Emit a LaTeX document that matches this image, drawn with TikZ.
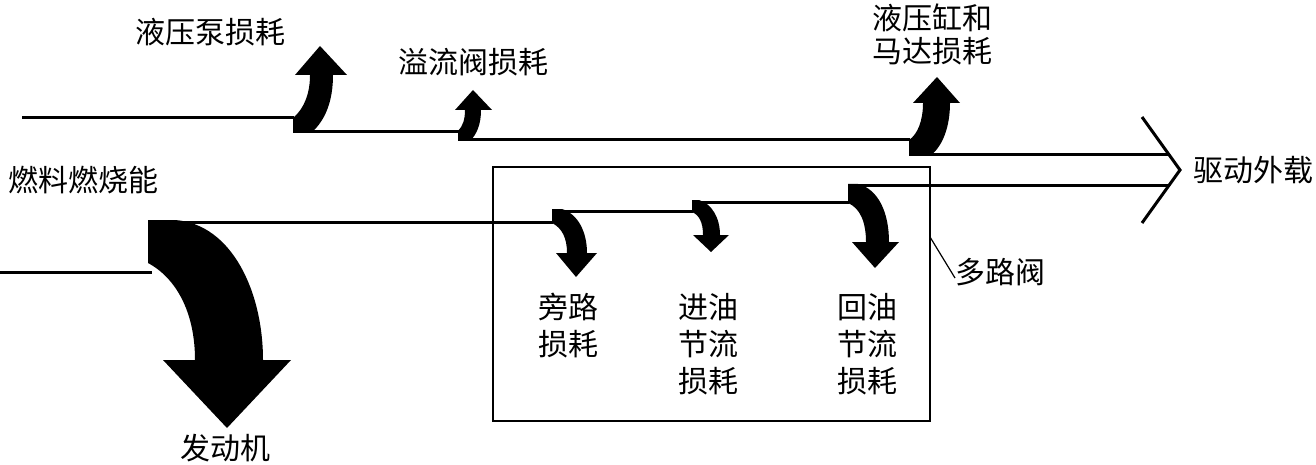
\documentclass[tikz,border=0pt]{standalone}
\usepackage{fontspec}
\newfontfamily\cjk{Noto Sans CJK SC}
\begin{document}
\begin{tikzpicture}[x=1pt,y=-1pt,
  flow/.style={line width=3pt},
  lbl/.style={inner sep=0pt,align=center,font={\cjk\fontsize{30pt}{37pt}\selectfont}},
  lbltwo/.style={lbl,font={\cjk\fontsize{30pt}{33pt}\selectfont}},
  loss/.style={fill=black}]
\useasboundingbox (0,0) rectangle (1316,465);
% upper boundary
\draw[flow] (22,118) -- (294,118);
\draw[flow] (305,132) -- (459,132);
\draw[flow] (468,140) -- (910,140);
\draw[flow] (924,155) -- (1169,155);
% lower boundary
\draw[flow] (0,272) -- (152,272);
\draw[flow] (172,222) -- (553,222);
\draw[flow] (552,211) -- (693,211);
\draw[flow] (692,202) -- (849,202);
\draw[flow] (848,186) -- (1168,186);
% output chevron
\draw[line width=3pt,line join=miter] (1142,117) -- (1180,170) -- (1142,223);
% engine loss
\fill[loss] (148,220) -- (175,220) .. controls (232,224) and (263,292) .. (263,360) -- (291,360) -- (227,428) -- (163,360) -- (195,360) .. controls (195,312) and (176,278) .. (148,263) -- cycle;
% pump loss
\fill[loss] (293,118) .. controls (305,108) and (310,92) .. (310,75) -- (295,75) -- (320,46) -- (347,75) -- (333,75) .. controls (333,100) and (326,120) .. (311,133) -- (293,133) -- cycle;
% relief valve loss
\fill[loss] (458,131) .. controls (463,126) and (465,119) .. (465,110) -- (455,110) -- (473,90) -- (492,110) -- (481,110) .. controls (481,124) and (477,134) .. (470,141) -- (458,141) -- cycle;
% cylinder and motor loss
\fill[loss] (909,140) .. controls (918,134) and (923,120) .. (923,103) -- (913,103) -- (937,77) -- (960,103) -- (950,103) .. controls (950,128) and (942,147) .. (930,156) -- (909,156) -- cycle;
% bypass loss
\fill[loss] (552,209) -- (562,209) .. controls (578,214) and (587,232) .. (587,253) -- (597,253) -- (576,277) -- (556,253) -- (567,253) .. controls (567,238) and (562,228) .. (552,223) -- cycle;
% inlet throttling loss
\fill[loss] (692,200) -- (699,200) .. controls (712,204) and (720,218) .. (720,235) -- (729,235) -- (711,252) -- (693,235) -- (703,235) .. controls (703,222) and (699,215) .. (692,212) -- cycle;
% return throttling loss
\fill[loss] (848,184) -- (858,184) .. controls (878,189) and (889,212) .. (889,242) -- (899,242) -- (875,268) -- (852,242) -- (866,242) .. controls (866,222) and (860,208) .. (848,203) -- cycle;
% multi-way valve box
\draw[line width=2pt] (493,167) rectangle (930,421);
\coordinate (boxpt) at (930,237);
% labels
\node[lbl] (pump) at (210,32) {液压泵损耗};
\node[lbl] (relief) at (473,62) {溢流阀损耗};
\node[lbltwo] (motor) at (932,34) {液压缸和\\马达损耗};
\node[lbl] (fuel) at (84,180) {燃料燃烧能};
\node[lbl] (engine) at (225,448) {发动机};
\node[lbl] (drive) at (1253,170) {驱动外载};
\node[lbl,anchor=west] (valve) at (955,272) {多路阀};
\node[lbl] (bypass) at (568,326) {旁路\\损耗};
\node[lbl] (inlet) at (708,344) {进油\\节流\\损耗};
\node[lbl] (return) at (867,344) {回油\\节流\\损耗};
\draw[line width=1.2pt] (boxpt) -- ([yshift=-6pt]valve.west);
\end{tikzpicture}
\end{document}
